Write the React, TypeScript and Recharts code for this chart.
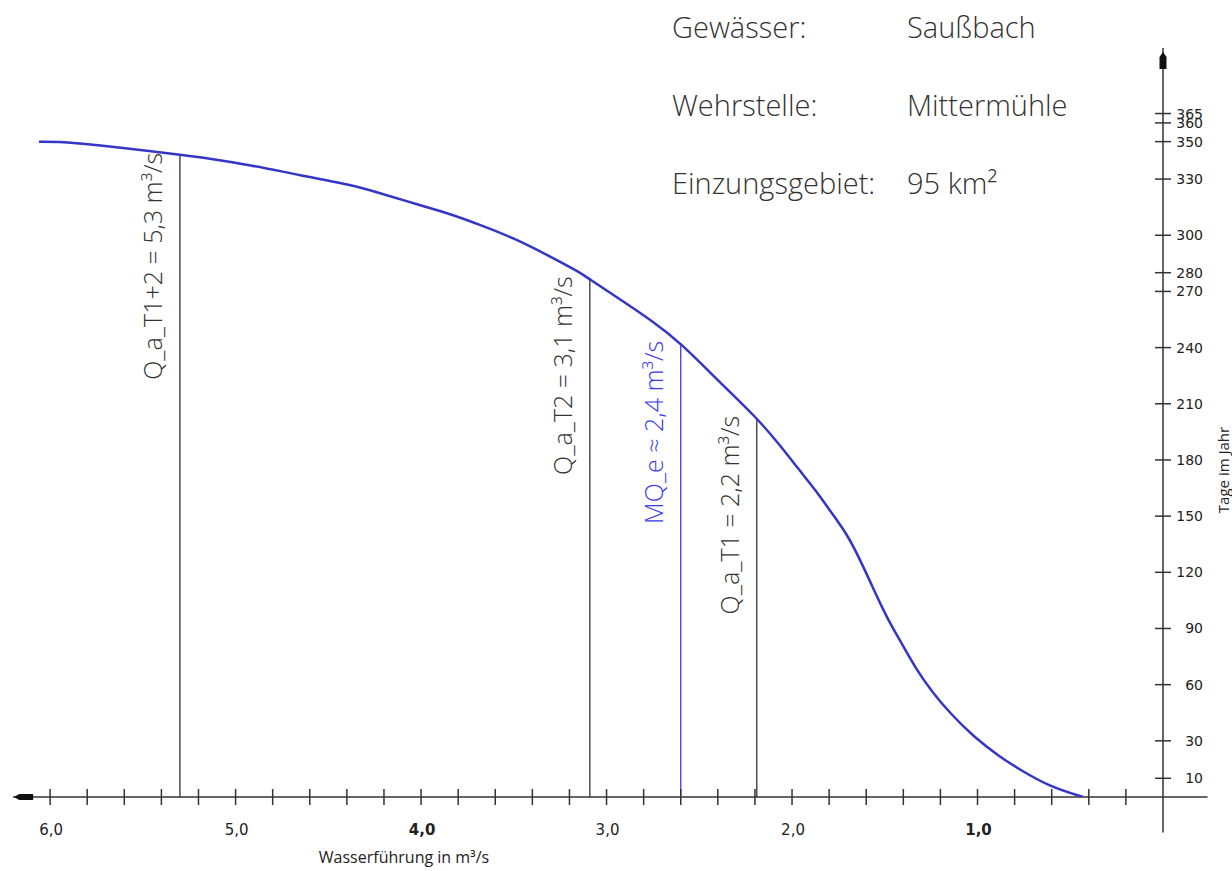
import { ComposedChart, Line, XAxis, YAxis, ReferenceLine, ReferenceDot } from "recharts";

// flow duration curve (Wasserführung in m³/s vs. Tage im Jahr)
const curveQ = [6.06, 5.95, 5.84, 5.73, 5.46, 5.3, 5.14, 4.92, 4.65, 4.38, 4.22, 4.04, 3.86, 3.68, 3.5, 3.32, 3.14, 3.1, 2.93, 2.75, 2.6, 2.39, 2.19, 2.07, 1.96, 1.87, 1.8, 1.7, 1.63, 1.56, 1.49, 1.42, 1.33, 1.24, 1.15, 1.02, 0.88, 0.77, 0.61, 0.43];
const curveDays = [350, 350, 349, 348, 345, 343, 341, 337.5, 332, 327, 322.5, 317, 312, 305.5, 298.5, 289.5, 280, 277, 266, 254, 242.5, 221.5, 202.5, 188.5, 174.5, 163.5, 153.5, 140, 126, 111, 96, 84, 68, 55.5, 45, 32, 21.5, 14.5, 5.5, 0];

const xTicks = [6.0, 5.8, 5.6, 5.4, 5.2, 5.0, 4.8, 4.6, 4.4, 4.2, 4.0, 3.8, 3.6, 3.4, 3.2, 3.0, 2.8, 2.6, 2.4, 2.2, 2.0, 1.8, 1.6, 1.4, 1.2, 1.0, 0.8, 0.6, 0.4, 0.2];
const xLabelled = [6, 5, 4, 3, 2, 1];
const xBold = [4, 1];
const yTicks = [10, 30, 60, 90, 120, 150, 180, 210, 240, 270, 280, 300, 330, 350, 360, 365];

// marker lines: position on x, height where they meet the curve
const markerQ = [5.3, 3.09, 2.6, 2.19];
const markerDays = [343, 277, 242.5, 202.5];
const markerText = ["Q_a_T1+2 = 5,3 m³/s", "Q_a_T2 = 3,1 m³/s", "MQ_e ≈ 2,4 m³/s", "Q_a_T1 = 2,2 m³/s"];
const markerColor = ["#333", "#333", "#3b3bf0", "#333"];

const infoKeys = ["Gewässer:", "Wehrstelle:", "Einzungsgebiet:"];
const infoValues = ["Saußbach", "Mittermühle", "95 km²"];

const data = curveQ.map((q, i) => ({ q, days: curveDays[i] }));

const axisColor = "#333";

const XTick = (props: any) => {
  const { x, y, payload } = props;
  const v = Math.round(payload.value * 10) / 10;
  const showLabel = xLabelled.includes(v);
  return (
    <g>
      <line x1={x} x2={x} y1={y - 8} y2={y + 8} stroke={axisColor} strokeWidth={1.5} />
      {showLabel && (
        <text x={x + 1} y={y + 38} textAnchor="middle" fontSize={15} fontFamily="DejaVu Sans" fill="#222" fontWeight={xBold.includes(v) ? "bold" : "normal"}>
          {v.toFixed(1).replace(".", ",")}
        </text>
      )}
    </g>
  );
};

const YTick = (props: any) => {
  const { x, y, payload } = props;
  return (
    <g>
      <line x1={x - 8} x2={x + 8} y1={y} y2={y} stroke={axisColor} strokeWidth={1.5} />
      <text x={x + 40} y={y + 5} textAnchor="end" fontSize={14} fontFamily="DejaVu Sans" fill="#222">
        {payload.value}
      </text>
    </g>
  );
};

const markerLabel = (text: string, color: string) => (props: any) => {
  const { x, y } = props.viewBox;
  const bx = x - 18;
  const by = y - 2;
  return (
    <text x={bx} y={by} transform={`rotate(-90 ${bx} ${by})`} textAnchor="end" fontSize={25} fontFamily="Open Sans" fontWeight={300} fill={color}>
      {text}
    </text>
  );
};

const UpArrow = (props: any) => {
  const { cx, cy } = props;
  return <polygon points={`${cx},${cy - 9} ${cx + 3.5},${cy - 4} ${cx + 3.5},${cy + 8} ${cx - 3.5},${cy + 8} ${cx - 3.5},${cy - 4}`} fill="#111" />;
};

const LeftArrow = (props: any) => {
  const { cx, cy } = props;
  return <polygon points={`${cx - 10},${cy} ${cx - 5},${cy - 3} ${cx + 9},${cy - 3} ${cx + 9},${cy + 3} ${cx - 5},${cy + 3}`} fill="#111" />;
};

export default function App() {
  return (
    <div style={{ position: "absolute", left: 0, top: 0, width: 1232, height: 871, background: "#fff" }}>
      <ComposedChart width={1232} height={871} data={data} margin={{ top: 48, right: 29, bottom: 44, left: 13 }}>
        <XAxis
          dataKey="q"
          type="number"
          domain={[0, 6.2]}
          reversed
          allowDataOverflow
          ticks={xTicks}
          interval={0}
          axisLine={false}
          tickLine={false}
          tickSize={0}
          tickMargin={0}
          height={30}
          tick={<XTick />}
          label={(props: any) => (
            <text x={props.viewBox.x + 391} y={props.viewBox.y + 66} textAnchor="middle" fontSize={16} fontFamily="Open Sans" fill="#222">
              Wasserführung in m³/s
            </text>
          )}
        />
        <YAxis
          type="number"
          orientation="right"
          domain={[0, 400]}
          allowDataOverflow
          ticks={yTicks}
          interval={0}
          axisLine={false}
          tickLine={false}
          tickSize={0}
          tickMargin={0}
          width={40}
          tick={<YTick />}
          label={(props: any) => {
            const lx = props.viewBox.x + 66;
            const ly = 470;
            return (
              <text x={lx} y={ly} transform={`rotate(-90 ${lx} ${ly})`} textAnchor="middle" fontSize={15} fontFamily="Open Sans" fill="#222">
                Tage im Jahr
              </text>
            );
          }}
        />
        {/* axes crossing at the origin, extended past it */}
        <ReferenceLine segment={[{ x: 6.2, y: 0 }, { x: -0.24, y: 0 }]} stroke={axisColor} strokeWidth={1.5} ifOverflow="visible" />
        <ReferenceLine segment={[{ x: 0, y: -19 }, { x: 0, y: 400 }]} stroke={axisColor} strokeWidth={1.5} ifOverflow="visible" />
        <ReferenceDot x={0} y={393} shape={<UpArrow />} ifOverflow="visible" />
        <ReferenceDot x={6.14} y={0} shape={<LeftArrow />} ifOverflow="visible" />
        {markerQ.map((q, i) => (
          <ReferenceLine
            key={i}
            segment={[{ x: q, y: 0 }, { x: q, y: markerDays[i] }]}
            stroke={markerColor[i]}
            strokeWidth={1.3}
            label={markerLabel(markerText[i], markerColor[i])}
          />
        ))}
        <Line dataKey="days" type="basis" stroke="#3535c8" strokeWidth={2.5} dot={false} isAnimationActive={false} />
      </ComposedChart>
      <svg width={1232} height={871} style={{ position: "absolute", left: 0, top: 0, pointerEvents: "none" }}>
        {infoKeys.map((k, i) => (
          <g key={k}>
            <text x={672} y={38 + i * 78} fontSize={29} fontFamily="Open Sans" fontWeight={300} fill="#333">{k}</text>
            <text x={907} y={38 + i * 78} fontSize={29} fontFamily="Open Sans" fontWeight={300} fill="#333">{infoValues[i]}</text>
          </g>
        ))}
      </svg>
    </div>
  );
}
